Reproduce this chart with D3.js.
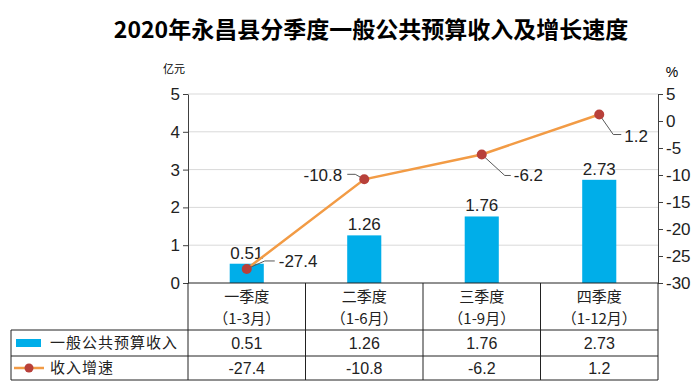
<!DOCTYPE html>
<html>
<head>
<meta charset="utf-8">
<script src="https://cdn.jsdelivr.net/npm/d3@7"></script>
<style>
  body { margin: 0; background: #fff; }
  svg { display: block; }
</style>
</head>
<body>
<div id="chart"></div>
<script>
// data
const categories = ["一季度", "二季度", "三季度", "四季度"];
const periods = ["（1-3月）", "（1-6月）", "（1-9月）", "（1-12月）"];
const revenue = [0.51, 1.26, 1.76, 2.73];
const growth = [-27.4, -10.8, -6.2, 1.2];
const leftTicks = [0, 1, 2, 3, 4, 5];
const rightTicks = [5, 0, -5, -10, -15, -20, -25, -30];

const width = 700, height = 385;
const margin = { top: 94, right: 42, bottom: 102, left: 188 };
const numFont = "'Liberation Sans', Arial, sans-serif";
const cjkFont = "'Noto Sans CJK SC', sans-serif";

const svg = d3.select("#chart").append("svg")
  .attr("width", width)
  .attr("height", height);

const x = d3.scaleBand()
  .domain(categories)
  .range([margin.left, width - margin.right])
  .paddingInner(0)
  .paddingOuter(0);

const yL = d3.scaleLinear().domain([0, 5]).range([height - margin.bottom, margin.top]);
const yR = d3.scaleLinear().domain([-30, 5]).range([height - margin.bottom, margin.top]);

// title
svg.append("text")
  .attr("x", 371).attr("y", 38)
  .attr("text-anchor", "middle")
  .style("font-family", cjkFont)
  .style("font-weight", "bold")
  .style("font-size", "23px")
  .text("2020年永昌县分季度一般公共预算收入及增长速度");

// gridlines
svg.append("g")
  .selectAll("line")
  .data(leftTicks.slice(1))
  .join("line")
  .attr("x1", margin.left).attr("x2", width - margin.right)
  .attr("y1", d => yL(d)).attr("y2", d => yL(d))
  .attr("stroke", "#d9d9d9");

// axes
const axL = svg.append("g")
  .attr("transform", `translate(${margin.left},0)`)
  .call(d3.axisLeft(yL).tickValues(leftTicks).tickFormat(d3.format("d")).tickSize(5).tickSizeOuter(0));
const axR = svg.append("g")
  .attr("transform", `translate(${width - margin.right},0)`)
  .call(d3.axisRight(yR).tickValues(rightTicks).tickFormat(d => String(d)).tickSize(5).tickSizeOuter(0));
[axL, axR].forEach(g => {
  g.select(".domain").attr("stroke", "#404040");
  g.selectAll(".tick line").attr("stroke", "#404040");
  g.selectAll(".tick text")
    .style("font-family", numFont)
    .style("font-size", "17px")
    .attr("fill", "#222");
});

// unit labels
svg.append("text").attr("x", 174).attr("y", 73).attr("text-anchor", "middle")
  .style("font-family", cjkFont).style("font-size", "11px").text("亿元");
svg.append("text").attr("x", 672).attr("y", 77).attr("text-anchor", "middle")
  .style("font-family", numFont).style("font-size", "14px").text("%");

// bars
const barW = x.bandwidth() * 0.29;
svg.append("g")
  .selectAll("rect")
  .data(revenue)
  .join("rect")
  .attr("x", (d, i) => x(categories[i]) + x.bandwidth() / 2 - barW / 2)
  .attr("y", d => yL(d))
  .attr("width", barW)
  .attr("height", d => yL(0) - yL(d))
  .attr("fill", "#00aee9");

svg.append("g")
  .selectAll("text")
  .data(revenue)
  .join("text")
  .attr("x", (d, i) => x(categories[i]) + x.bandwidth() / 2)
  .attr("y", d => yL(d) - 5)
  .attr("text-anchor", "middle")
  .style("font-family", numFont)
  .style("font-size", "17px")
  .attr("fill", "#222")
  .text(d => d);

// line
const cx = i => x(categories[i]) + x.bandwidth() / 2;
svg.append("path")
  .datum(growth)
  .attr("d", d3.line().x((d, i) => cx(i)).y(d => yR(d)))
  .attr("fill", "none")
  .attr("stroke", "#f29b45")
  .attr("stroke-width", 2.5);

// line labels with leader lines (offsets relative to point)
const lab = [
  { dx: 32, dy: -8, anchor: "start", leader: [[0, 0], [18, -8], [28, -8]] },
  { dx: -22, dy: -4, anchor: "end", leader: [[0, 0], [-9, -5], [-17, -5]] },
  { dx: 32, dy: 21, anchor: "start", leader: [[0, 0], [23, 21], [29, 21]] },
  { dx: 25, dy: 22, anchor: "start", leader: [[0, 0], [14, 20], [22, 20]] }
];
growth.forEach((d, i) => {
  const px = cx(i), py = yR(d), l = lab[i];
  svg.append("polyline")
    .attr("points", l.leader.map(p => [px + p[0], py + p[1]].join(",")).join(" "))
    .attr("fill", "none")
    .attr("stroke", "#595959")
    .attr("stroke-width", 1);
  svg.append("text")
    .attr("x", px + l.dx).attr("y", py + l.dy)
    .attr("dy", "0.35em")
    .attr("text-anchor", l.anchor)
    .style("font-family", numFont)
    .style("font-size", "17px")
    .attr("fill", "#222")
    .text(d);
});

svg.append("g")
  .selectAll("circle")
  .data(growth)
  .join("circle")
  .attr("cx", (d, i) => cx(i))
  .attr("cy", d => yR(d))
  .attr("r", 5)
  .attr("fill", "#b8403a");

// data table
const t0 = yL(0), t1 = 330, t2 = 356, t3 = 380, tl = 11;
const tab = svg.append("g").attr("stroke", "#222").attr("stroke-width", 1).attr("fill", "none");
tab.append("line").attr("x1", margin.left).attr("x2", width - margin.right).attr("y1", t0).attr("y2", t0);
[t1, t2, t3].forEach(yy => tab.append("line").attr("x1", tl).attr("x2", width - margin.right).attr("y1", yy).attr("y2", yy));
tab.append("line").attr("x1", tl).attr("x2", tl).attr("y1", t1).attr("y2", t3);
categories.forEach(c => tab.append("line").attr("x1", x(c)).attr("x2", x(c)).attr("y1", t0).attr("y2", t3));
tab.append("line").attr("x1", width - margin.right).attr("x2", width - margin.right).attr("y1", t0).attr("y2", t3);

categories.forEach((c, i) => {
  const mx = x(c) + x.bandwidth() / 2;
  svg.append("text").attr("x", mx).attr("y", 302).attr("text-anchor", "middle")
    .style("font-family", cjkFont).style("font-size", "15px").attr("fill", "#222").text(c);
  svg.append("text").attr("x", mx).attr("y", 324).attr("text-anchor", "middle")
    .style("font-family", cjkFont).style("font-size", "15px").attr("fill", "#222").text(periods[i]);
  svg.append("text").attr("x", mx).attr("y", (t1 + t2) / 2).attr("dy", "0.36em").attr("text-anchor", "middle")
    .style("font-family", numFont).style("font-size", "16px").attr("fill", "#222").text(revenue[i]);
  svg.append("text").attr("x", mx).attr("y", (t2 + t3) / 2).attr("dy", "0.36em").attr("text-anchor", "middle")
    .style("font-family", numFont).style("font-size", "16px").attr("fill", "#222").text(growth[i]);
});

// legend keys
svg.append("rect").attr("x", 16).attr("y", 339).attr("width", 25).attr("height", 8).attr("fill", "#00aee9");
svg.append("line").attr("x1", 14).attr("x2", 44).attr("y1", 368).attr("y2", 368)
  .attr("stroke", "#f29b45").attr("stroke-width", 2.5);
svg.append("circle").attr("cx", 29).attr("cy", 368).attr("r", 4.5).attr("fill", "#b8403a");
svg.append("text").attr("x", 50).attr("y", (t1 + t2) / 2).attr("dy", "0.36em")
  .style("font-family", cjkFont).style("font-size", "15px").style("letter-spacing", "1px").attr("fill", "#222")
  .text("一般公共预算收入");
svg.append("text").attr("x", 50).attr("y", (t2 + t3) / 2).attr("dy", "0.36em")
  .style("font-family", cjkFont).style("font-size", "15px").style("letter-spacing", "1px").attr("fill", "#222")
  .text("收入增速");
</script>
</body>
</html>
